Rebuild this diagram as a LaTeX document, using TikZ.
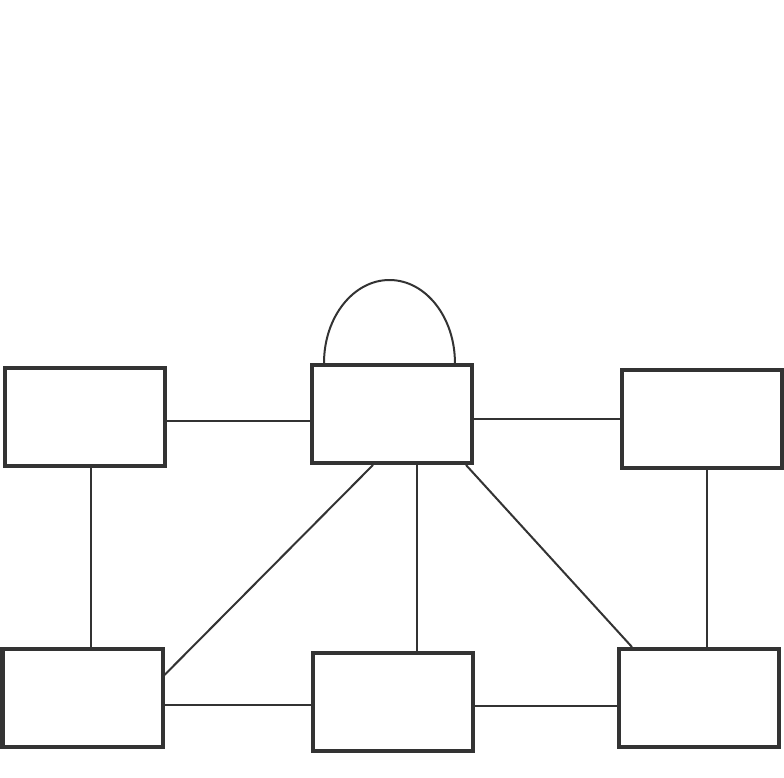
\documentclass[tikz,border=0pt]{standalone}
\usepackage{xcolor}
\usetikzlibrary{positioning, calc}
\definecolor{inkgray}{HTML}{333333}

\begin{document}
\begin{tikzpicture}[
        x=0.75pt, y=-0.75pt,
        block/.style={rectangle, draw=inkgray, line width=3pt, minimum width=120pt, minimum height=73.5pt, inner sep=0pt, fill=white},
        link/.style={draw=inkgray, line width=1.5pt}
    ]
        \useasboundingbox (0,0) rectangle (784,777);
        \node[block] (boxA) at (85,417) {};
        \node[block] (boxB) at (392,414) {};
        \node[block] (boxC) at (702,418.5) {};
        \node[block] (boxD) at (82.5,697.5) {};
        \node[block] (boxE) at (392.5,702) {};
        \node[block] (boxF) at (698.5,698) {};
        % loop on top
        \draw[link] ([xshift=-51pt]boxB.north) arc[start angle=180, end angle=0, x radius=49.1pt, y radius=62.25pt];
        % top row
        \draw[link] ([yshift=-3pt]boxA.east) -- ([yshift=-3pt]boxA.east -| boxB.west);
        \draw[link] (boxC.west -| boxB.east) -- (boxC.west);
        % bottom row
        \draw[link] ([yshift=-2.25pt]boxE.west -| boxD.east) -- ([yshift=-2.25pt]boxE.west);
        \draw[link] ([yshift=-3pt]boxE.east) -- ([yshift=-3pt]boxE.east -| boxF.west);
        % verticals
        \draw[link] ([xshift=4.5pt]boxA.south) -- ([xshift=4.5pt]boxA.south |- boxD.north);
        \draw[link] ([xshift=3.75pt]boxC.south) -- ([xshift=3.75pt]boxC.south |- boxF.north);
        \draw[link] ([xshift=18.75pt]boxB.south) -- ([xshift=18.75pt]boxB.south |- boxE.north);
        % diagonals
        \draw[link] ([xshift=-14.25pt]boxB.south) -- ([yshift=16.9pt]boxD.east);
        \draw[link] ([xshift=55.5pt]boxB.south) -- ([xshift=-49.9pt]boxF.north);
    \end{tikzpicture}
\end{document}
